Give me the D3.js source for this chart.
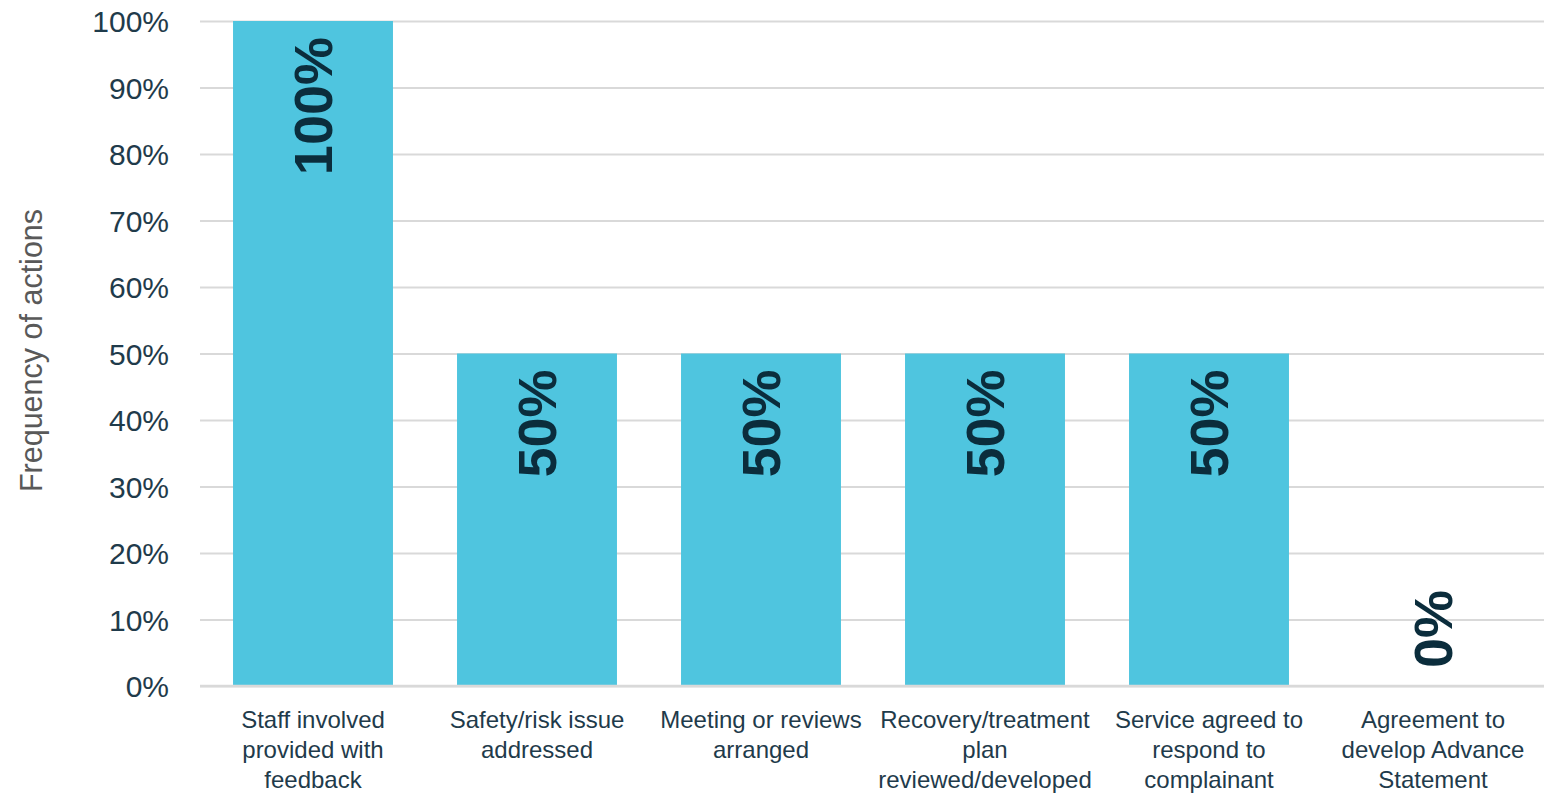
<!DOCTYPE html>
<html>
<head>
<meta charset="utf-8">
<script src="https://cdn.jsdelivr.net/npm/d3@7"></script>
<style>
  html, body { margin: 0; padding: 0; background: #fff; }
  svg { display: block; font-family: "Liberation Sans", Arial, Helvetica, sans-serif; }
</style>
</head>
<body>
<svg id="chart" width="1544" height="793"></svg>
<script>
// Action categories (line breaks mark the wrapped label lines)
const categories = [
  "Staff involved\nprovided with\nfeedback",
  "Safety/risk issue\naddressed",
  "Meeting or reviews\narranged",
  "Recovery/treatment\nplan\nreviewed/developed",
  "Service agreed to\nrespond to\ncomplainant",
  "Agreement to\ndevelop Advance\nStatement"
];
// Share of complaints with each action (%)
const values = [100, 50, 50, 50, 50, 0];
// Y axis ticks (%)
const yTicks = [0, 10, 20, 30, 40, 50, 60, 70, 80, 90, 100];
const yTitle = "Frequency of actions";

const W = 1544, H = 793;
const margin = { top: 21, right: 0, bottom: 107, left: 200 };

const svg = d3.select("#chart");

const x = d3.scaleBand()
  .domain(categories)
  .range([margin.left + 1, W - margin.right + 1])
  .paddingInner(0.286)
  .paddingOuter(0.143);

const y = d3.scaleLinear()
  .domain([0, 100])
  .range([H - margin.bottom, margin.top]);

// Gridlines and tick labels
const yAxis = d3.axisLeft(y)
  .tickValues(yTicks)
  .tickSize(-(W - margin.left - margin.right))
  .tickPadding(31)
  .tickFormat(d => d + "%");

const gy = svg.append("g")
  .attr("transform", `translate(${margin.left},0)`)
  .call(yAxis);
gy.select(".domain").remove();
gy.selectAll(".tick line")
  .attr("stroke", "#d9d9d9")
  .attr("stroke-width", 2);
gy.selectAll(".tick text")
  .attr("fill", "#1f3b4b")
  .attr("font-size", 30)
  .attr("dy", "0.35em");

// Bars
svg.append("g")
  .selectAll("rect")
  .data(values)
  .join("rect")
  .attr("x", (d, i) => x(categories[i]))
  .attr("width", x.bandwidth())
  .attr("y", d => y(d))
  .attr("height", d => y(0) - y(d))
  .attr("fill", "#4fc5df");

// Baseline
svg.append("line")
  .attr("x1", margin.left)
  .attr("x2", W - margin.right)
  .attr("y1", y(0))
  .attr("y2", y(0))
  .attr("stroke", "#d9d9d9")
  .attr("stroke-width", 2.5);

// Value labels, rotated, inside the top of each bar
svg.append("g")
  .selectAll("text")
  .data(values)
  .join("text")
  .attr("transform", (d, i) => {
    const cx = x(categories[i]) + x.bandwidth() / 2;
    const cy = d > 0 ? y(d) + 16 : y(0) - 18;
    return `translate(${cx},${cy}) rotate(-90)`;
  })
  .attr("text-anchor", d => d > 0 ? "end" : "start")
  .attr("dy", "0.36em")
  .attr("font-size", 54)
  .attr("font-weight", "bold")
  .attr("fill", "#0b2d3c")
  .text(d => d + "%");

// Category labels
const catG = svg.append("g")
  .selectAll("text")
  .data(categories)
  .join("text")
  .attr("x", d => x(d) + x.bandwidth() / 2)
  .attr("y", 728)
  .attr("text-anchor", "middle")
  .attr("font-size", 24)
  .attr("fill", "#1f3b4b");
catG.selectAll("tspan")
  .data(d => d.split("\n"))
  .join("tspan")
  .attr("x", function () { return d3.select(this.parentNode).attr("x"); })
  .attr("dy", (d, i) => i === 0 ? 0 : 30)
  .text(d => d);

// Y axis title
svg.append("text")
  .attr("transform", `translate(42,${(margin.top + H - margin.bottom) / 2 - 3}) rotate(-90)`)
  .attr("text-anchor", "middle")
  .attr("font-size", 30.5)
  .attr("fill", "#595959")
  .text(yTitle);
</script>
</body>
</html>
